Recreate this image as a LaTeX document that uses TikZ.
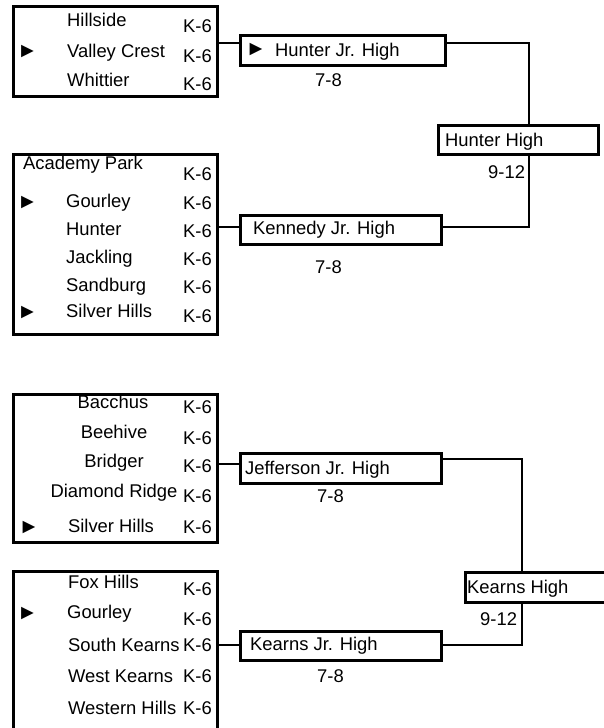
\documentclass[tikz,border=0pt]{standalone}
\usepackage{fontspec}
\setmainfont{Liberation Sans}
\begin{document}
\begin{tikzpicture}[x=1pt,y=-1pt,
  every node/.style={font=\fontsize{18.4}{20}\selectfont, inner sep=0pt},
  lbox/.style={draw, line width=2.6pt, minimum width=204pt, anchor=north west},
  jbox/.style={draw, line width=2.6pt, anchor=north west},
  txt/.style={anchor=base west},
  ctxt/.style={anchor=base},
  arr/.style={anchor=center, font=\fontsize{21}{21}\selectfont},
  conn/.style={line width=1.3pt}]
\useasboundingbox (0,0) rectangle (603,728);
% left boxes
\node[lbox, minimum height=90pt] (b1) at (12,5) {};
\node[lbox, minimum height=180pt] (b2) at (12,153) {};
\node[lbox, minimum height=148pt] (b3) at (12,393) {};
\node[lbox, minimum height=175pt] (b4) at (12,570) {};
% box 1
\node[txt] (b1n1) at (67,27) {Hillside};
\node[txt] (b1k1) at (183,32) {K-6};
\node[arr] (b1a2) at (27.5,51.5) {►};
\node[txt] (b1n2) at (67,57) {Valley Crest};
\node[txt] (b1k2) at (183,62) {K-6};
\node[txt] (b1n3) at (67,86) {Whittier};
\node[txt] (b1k3) at (183,90) {K-6};
% box 2
\node[txt] (b2n1) at (23,169) {Academy Park};
\node[txt] (b2k1) at (183,180) {K-6};
\node[arr] (b2a2) at (27.5,202.5) {►};
\node[txt] (b2n2) at (66,207) {Gourley};
\node[txt] (b2k2) at (183,209) {K-6};
\node[txt] (b2n3) at (66,235) {Hunter};
\node[txt] (b2k3) at (183,237) {K-6};
\node[txt] (b2n4) at (66,263) {Jackling};
\node[txt] (b2k4) at (183,265) {K-6};
\node[txt] (b2n5) at (66,291) {Sandburg};
\node[txt] (b2k5) at (183,293) {K-6};
\node[arr] (b2a6) at (27.5,312.5) {►};
\node[txt] (b2n6) at (66,317) {Silver Hills};
\node[txt] (b2k6) at (183,322) {K-6};
% box 3
\node[ctxt] (b3n1) at (113,408) {Bacchus};
\node[txt] (b3k1) at (183,413) {K-6};
\node[ctxt] (b3n2) at (114,438) {Beehive};
\node[txt] (b3k2) at (183,444) {K-6};
\node[ctxt] (b3n3) at (114,467) {Bridger};
\node[txt] (b3k3) at (183,472) {K-6};
\node[ctxt] (b3n4) at (114,497) {Diamond Ridge};
\node[txt] (b3k4) at (183,502) {K-6};
\node[arr] (b3a5) at (29,527.5) {►};
\node[ctxt] (b3n5) at (111,532) {Silver Hills};
\node[txt] (b3k5) at (183,533) {K-6};
% box 4
\node[txt] (b4n1) at (68,588) {Fox Hills};
\node[txt] (b4k1) at (183,595) {K-6};
\node[arr] (b4a2) at (27.5,613.5) {►};
\node[txt] (b4n2) at (67,618) {Gourley};
\node[txt] (b4k2) at (183,625) {K-6};
\node[txt] (b4n3) at (68,651) {South Kearns};
\node[txt] (b4k3) at (183,651) {K-6};
\node[txt] (b4n4) at (68,682) {West Kearns};
\node[txt] (b4k4) at (183,682) {K-6};
\node[txt] (b4n5) at (68,714) {Western Hills};
\node[txt] (b4k5) at (183,714) {K-6};
% junior highs
\node[jbox, minimum width=205pt, minimum height=30pt] (hj) at (239,34) {};
\node[arr] (hja) at (256,49.5) {►};
\node[txt] (hjt) at (275,56) {Hunter Jr. High};
\node[txt] (hjg) at (315,86) {7-8};
\node[jbox, minimum width=201pt, minimum height=29pt] (kj) at (239,214) {};
\node[txt] (kjt) at (253,234) {Kennedy Jr. High};
\node[txt] (kjg) at (315,273) {7-8};
\node[jbox, minimum width=201pt, minimum height=30pt] (jj) at (239,452) {};
\node[txt] (jjt) at (245,474) {Jefferson Jr. High};
\node[txt] (jjg) at (317,502) {7-8};
\node[jbox, minimum width=201pt, minimum height=29pt] (kej) at (239,630) {};
\node[txt] (kejt) at (250,650) {Kearns Jr. High};
\node[txt] (kejg) at (317,682) {7-8};
% high schools
\node[jbox, minimum width=160pt, minimum height=29pt] (hh) at (437,124) {};
\node[txt] (hht) at (445,146) {Hunter High};
\node[txt] (hhg) at (488,178) {9-12};
\node[jbox, minimum width=152pt, minimum height=30pt] (kh) at (464,571) {};
\node[txt] (kht) at (467,593) {Kearns High};
\node[txt] (khg) at (480,625) {9-12};
% connectors
\coordinate (y1) at (0,43);
\coordinate (y2) at (0,227);
\coordinate (y3) at (0,464);
\coordinate (y4) at (0,645);
\coordinate (y5) at (0,459);
\coordinate (x1) at (529,0);
\coordinate (x2) at (522,0);
\draw[conn] (b1.east |- y1) -- (hj.west |- y1);
\draw[conn] (b2.east |- y2) -- (kj.west |- y2);
\draw[conn] (b3.east |- y3) -- (jj.west |- y3);
\draw[conn] (b4.east |- y4) -- (kej.west |- y4);
\draw[conn] (hj.east |- y1) -| (x1 |- hh.north);
\draw[conn] (x1 |- hh.south) |- (kj.east |- y2);
\draw[conn] (jj.east |- y5) -| (x2 |- kh.north);
\draw[conn] (x2 |- kh.south) |- (kej.east |- y4);
\end{tikzpicture}
\end{document}
